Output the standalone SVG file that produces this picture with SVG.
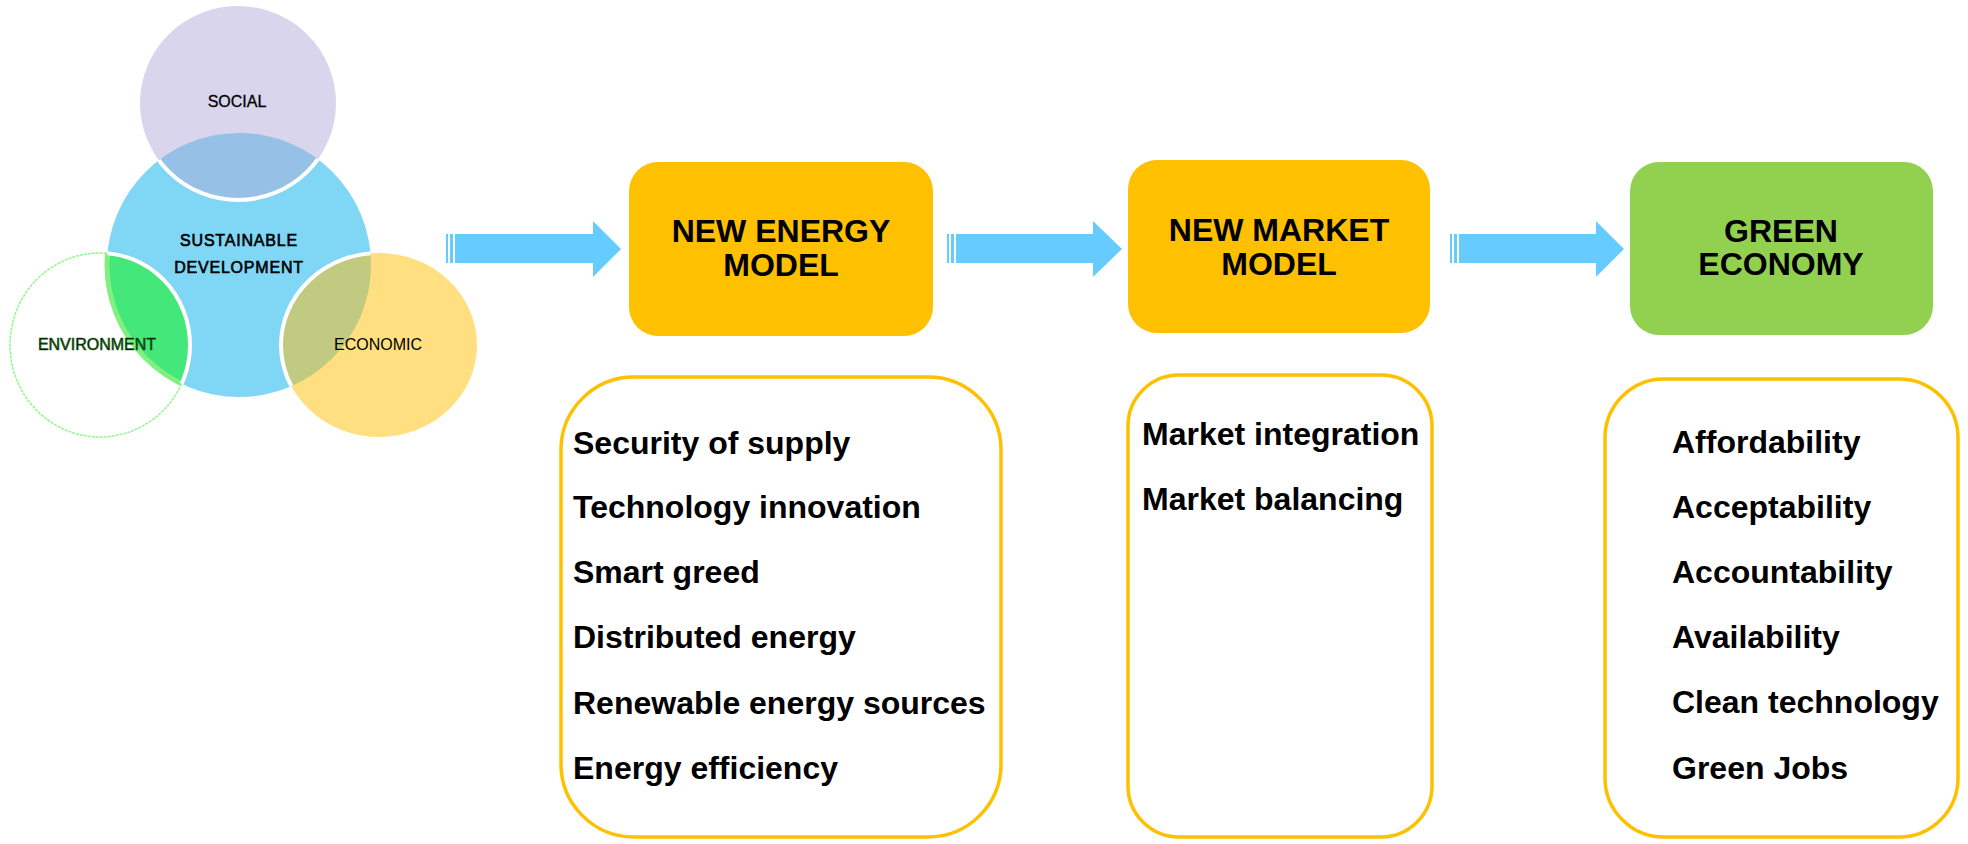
<svg xmlns="http://www.w3.org/2000/svg" width="1968" height="844" viewBox="0 0 1968 844">
<style>
.title{font-family:"Liberation Sans",Arial,sans-serif;font-weight:bold;font-size:32px;fill:#000;text-anchor:middle}
.item{font-family:"Liberation Sans",Arial,sans-serif;font-weight:bold;font-size:32px;fill:#000}
.venn{font-family:"Liberation Sans",Arial,sans-serif;font-size:16px;fill:#000;text-anchor:middle}
.list{fill:#fff;stroke:#FFC000;stroke-width:3.5}
.arrow{fill:#66CCFF}
</style>
<defs>
<clipPath id="cBlue"><circle cx="239" cy="265" r="132"/></clipPath>
<clipPath id="cEnv"><ellipse cx="100" cy="345" rx="90" ry="92"/></clipPath>
</defs>
<rect width="1968" height="844" fill="#fff"/>

<g id="venn">
<circle cx="239" cy="265" r="132" fill="#7FD6F5"/>
<ellipse cx="238" cy="103" rx="98" ry="97" fill="#D8D5EC"/>
<ellipse cx="238" cy="103" rx="98" ry="97" fill="#96C0E6" clip-path="url(#cBlue)"/>
<ellipse cx="379" cy="345" rx="98" ry="92" fill="#FFDF80"/>
<ellipse cx="379" cy="345" rx="98" ry="92" fill="#C0CA80" clip-path="url(#cBlue)"/>
<ellipse cx="100" cy="345" rx="90" ry="92" fill="#44E87A" clip-path="url(#cBlue)"/>
<g clip-path="url(#cEnv)"><circle cx="239" cy="265" r="132" fill="none" stroke="#80F080" stroke-width="5"/></g>
<ellipse cx="100" cy="345" rx="90" ry="92" fill="none" stroke="#90F890" stroke-width="1.5" stroke-dasharray="3 1"/>
<g clip-path="url(#cBlue)" fill="none" stroke="#fff" stroke-width="4">
<ellipse cx="238" cy="103" rx="98" ry="97"/>
<ellipse cx="379" cy="345" rx="98" ry="92"/>
<ellipse cx="100" cy="345" rx="90" ry="92"/>
</g>
<text class="venn" x="237" y="107" stroke="#000" stroke-width="0.3">SOCIAL</text>
<text class="venn" x="239" y="246" font-size="18" letter-spacing="0.8" stroke="#000" stroke-width="0.6">SUSTAINABLE</text>
<text class="venn" x="239" y="273" font-size="18" letter-spacing="0.8" stroke="#000" stroke-width="0.6">DEVELOPMENT</text>
<text class="venn" x="97" y="350" stroke="#1f6a1f" stroke-width="0.7">ENVIRONMENT</text>
<text class="venn" x="378" y="350">ECONOMIC</text>
</g>

<g id="connectors">
<g id="arrow1" class="arrow">
<rect x="446" y="234" width="2" height="29"/><rect x="450" y="234" width="3" height="29"/>
<path d="M455 234 H593 V221 L621 249 L593 277 V263 H455 Z"/>
</g>
<g id="arrow2" class="arrow">
<rect x="947" y="234" width="2" height="29"/><rect x="951" y="234" width="3" height="29"/>
<path d="M956 234 H1093 V221 L1122 249 L1093 277 V263 H956 Z"/>
</g>
<g id="arrow3" class="arrow">
<rect x="1450" y="234" width="2" height="29"/><rect x="1454" y="234" width="3" height="29"/>
<path d="M1459 234 H1596 V221 L1624 249 L1596 277 V263 H1459 Z"/>
</g>
</g>

<g id="energy-model">
<rect x="629" y="162" width="304" height="174" rx="29" fill="#FFC000"/>
<text class="title" x="781" y="242">NEW ENERGY</text>
<text class="title" x="781" y="276">MODEL</text>
</g>
<g id="market-model">
<rect x="1128" y="160" width="302" height="173" rx="29" fill="#FFC000"/>
<text class="title" x="1279" y="241">NEW MARKET</text>
<text class="title" x="1279" y="275">MODEL</text>
</g>
<g id="green-economy">
<rect x="1630" y="162" width="303" height="173" rx="29" fill="#92D050"/>
<text class="title" x="1781" y="242">GREEN</text>
<text class="title" x="1781" y="275">ECONOMY</text>
</g>

<g id="energy-list">
<rect class="list" x="561" y="377" width="440" height="460" rx="73"/>
<text class="item" x="573" y="454">Security of supply</text>
<text class="item" x="573" y="518">Technology innovation</text>
<text class="item" x="573" y="583">Smart greed</text>
<text class="item" x="573" y="648">Distributed energy</text>
<text class="item" x="573" y="714">Renewable energy sources</text>
<text class="item" x="573" y="779">Energy efficiency</text>
</g>
<g id="market-list">
<rect class="list" x="1128" y="375" width="304" height="462" rx="51"/>
<text class="item" x="1142" y="445">Market integration</text>
<text class="item" x="1142" y="510">Market balancing</text>
</g>
<g id="green-list">
<rect class="list" x="1605" y="379" width="353" height="458" rx="59"/>
<text class="item" x="1672" y="453">Affordability</text>
<text class="item" x="1672" y="518">Acceptability</text>
<text class="item" x="1672" y="583">Accountability</text>
<text class="item" x="1672" y="648">Availability</text>
<text class="item" x="1672" y="713">Clean technology</text>
<text class="item" x="1672" y="779">Green Jobs</text>
</g>
</svg>
